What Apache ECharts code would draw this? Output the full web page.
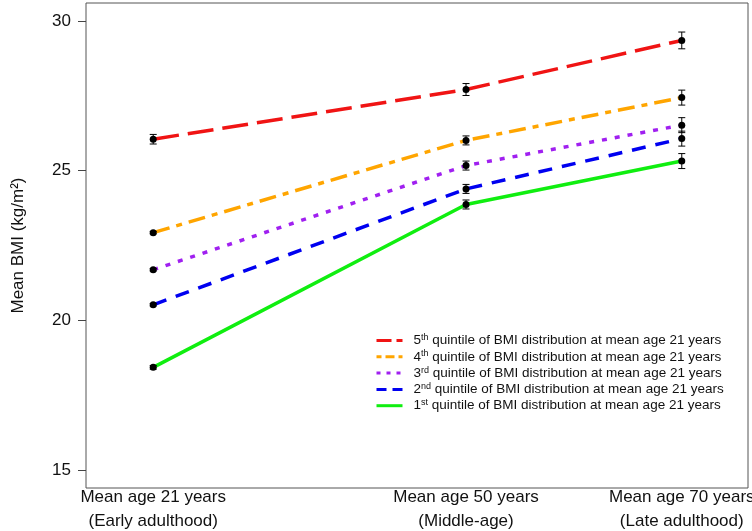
<!DOCTYPE html>
<html>
<head>
<meta charset="utf-8">
<script src="https://cdn.jsdelivr.net/npm/echarts@6/dist/echarts.min.js"></script>
<style>
html,body{margin:0;padding:0;background:#fff;}
#chart{width:752px;height:531px;}
</style>
</head>
<body>
<div id="chart"></div>
<script>
// ---- data ----
var ages = [21, 50, 70];
var ageLabels = ['Mean age 21 years\n(Early adulthood)', 'Mean age 50 years\n(Middle-age)', 'Mean age 70 years\n(Late adulthood)'];
var yTicks = [15, 20, 25, 30];

var q5 = [26.05, 27.71, 29.35];
var q4 = [22.93, 26.01, 27.44];
var q3 = [21.69, 25.17, 26.52];
var q2 = [20.52, 24.39, 26.07];
var q1 = [18.43, 23.87, 25.32];

var e5 = [0.16, 0.20, 0.28];
var e4 = [0.04, 0.15, 0.25];
var e3 = [0.04, 0.15, 0.25];
var e2 = [0.04, 0.15, 0.25];
var e1 = [0.06, 0.15, 0.25];

var seriesNames = ['q5', 'q4', 'q3', 'q2', 'q1'];
var ordNum = ['5', '4', '3', '2', '1'];
var ordSup = ['th', 'th', 'rd', 'nd', 'st'];
var legendText = ' quintile of BMI distribution at mean age 21 years';

// ---- styles ----
var FONT = 'Liberation Sans, Arial, Helvetica, sans-serif';
var styles = {
  q5: {color: '#f01414', type: [26, 9], legendType: [15, 5]},
  q4: {color: '#ffa500', type: [17, 7, 6, 7], legendType: [5, 4, 9, 4]},
  q3: {color: '#a020f0', type: [5, 8], legendType: [4, 6]},
  q2: {color: '#0000f0', type: [14, 10], legendType: [10, 6]},
  q1: {color: '#10ee10', type: 'solid', legendType: 'solid'}
};
var values = {q5: q5, q4: q4, q3: q3, q2: q2, q1: q1};
var errs = {q5: e5, q4: e4, q3: e3, q2: e2, q1: e1};

var series = [];
seriesNames.forEach(function (n) {
  series.push({
    name: n,
    type: 'line',
    symbol: 'none',
    data: ages.map(function (a, i) { return [a, values[n][i]]; }),
    itemStyle: {color: styles[n].color},
    lineStyle: {color: styles[n].color, width: 3.5, type: styles[n].type, cap: 'butt'},
    z: 2
  });
});

var pts = [];
seriesNames.forEach(function (n) {
  ages.forEach(function (a, i) { pts.push([a, values[n][i], errs[n][i]]); });
});

series.push({
  type: 'custom',
  name: 'points',
  data: pts,
  encode: {x: 0, y: 1},
  z: 5,
  renderItem: function (params, api) {
    var x = api.value(0), y = api.value(1), e = api.value(2);
    var p = api.coord([x, y]);
    var hi = api.coord([x, y + e]);
    var lo = api.coord([x, y - e]);
    var s = {stroke: '#000', lineWidth: 1};
    return {
      type: 'group',
      children: [
        {type: 'line', shape: {x1: p[0], y1: hi[1], x2: p[0], y2: lo[1]}, style: s},
        {type: 'line', shape: {x1: p[0] - 3.5, y1: hi[1], x2: p[0] + 3.5, y2: hi[1]}, style: s},
        {type: 'line', shape: {x1: p[0] - 3.5, y1: lo[1], x2: p[0] + 3.5, y2: lo[1]}, style: s},
        {type: 'circle', shape: {cx: p[0], cy: p[1], r: 3.5}, style: {fill: '#000'}}
      ]
    };
  }
});

var chart = echarts.init(document.getElementById('chart'), null, {renderer: 'canvas'});
chart.setOption({
  animation: false,
  backgroundColor: '#fff',
  textStyle: {fontFamily: FONT},
  grid: {left: 86, right: 4, top: 3, bottom: 43, show: true, borderColor: '#555', borderWidth: 1, containLabel: false, outerBoundsMode: 'none'},
  legend: {
    data: seriesNames.map(function (n) {
      return {name: n, lineStyle: {type: styles[n].legendType, width: 3, cap: 'butt'}};
    }),
    orient: 'vertical',
    left: 375,
    top: 333,
    padding: 0,
    itemWidth: 26,
    itemHeight: 14,
    itemGap: 1.8,
    itemStyle: {opacity: 0},
    textStyle: {
      fontFamily: FONT, fontSize: 13.5, color: '#111',
      rich: {
        n: {fontSize: 13.5, fontFamily: FONT, color: '#111', padding: [0, 0, 0, 6]},
        s: {fontSize: 9, fontFamily: FONT, color: '#111', verticalAlign: 'top', padding: [0, 0, 6, 0]},
        t: {fontSize: 13.5, fontFamily: FONT, color: '#111'}
      }
    },
    formatter: function (name) {
      var i = seriesNames.indexOf(name);
      return '{n|' + ordNum[i] + '}{s|' + ordSup[i] + '}{t|' + legendText + '}';
    }
  },
  xAxis: {
    type: 'value',
    min: 14.77,
    max: 76.14,
    axisLine: {show: false},
    axisTick: {show: false},
    splitLine: {show: false},
    axisLabel: {
      customValues: ages,
      formatter: function (v) {
        var i = ages.indexOf(v);
        return i >= 0 ? ageLabels[i] : '';
      },
      fontSize: 17,
      lineHeight: 24,
      color: '#111',
      margin: -3,
      fontFamily: FONT
    }
  },
  yAxis: {
    type: 'value',
    min: 14.4,
    max: 30.6,
    name: 'Mean BMI (kg/m\u00B2)',
    nameLocation: 'middle',
    nameGap: 59,
    nameTextStyle: {fontSize: 17, color: '#111', fontFamily: FONT},
    axisLine: {show: false},
    splitLine: {show: false},
    axisTick: {show: true, customValues: yTicks, length: 8, inside: false, lineStyle: {color: '#444', width: 1}},
    axisLabel: {customValues: yTicks, fontSize: 17, color: '#111', margin: 15, fontFamily: FONT}
  },
  series: series
});
</script>
</body>
</html>
